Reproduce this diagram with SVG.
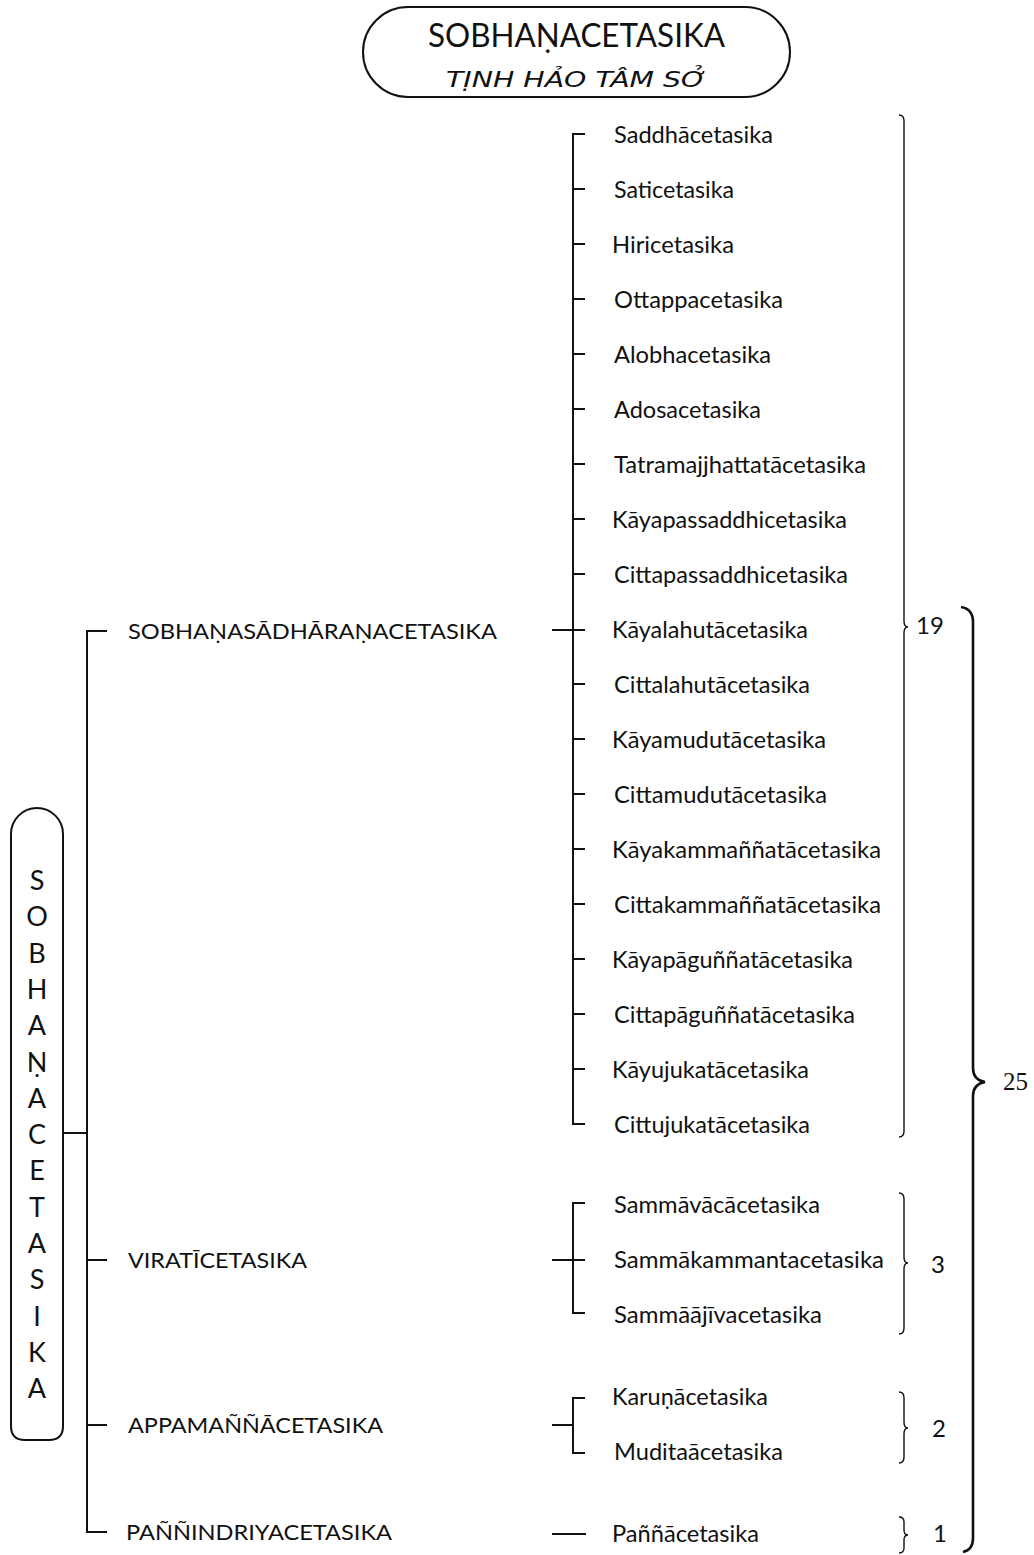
<svg xmlns="http://www.w3.org/2000/svg" width="1034" height="1555" viewBox="0 0 1034 1555">
<style>
.t{font-family:Lato,"Noto Sans",sans-serif;fill:#111}
.item{font-size:23px}
.cat{font-size:21px}
.num{font-size:24px}
.ln{fill:none;stroke:#111;stroke-width:2}
.br{fill:none;stroke:#111;stroke-width:1.4}
.bb{fill:none;stroke:#111;stroke-width:2.6}
.box{fill:#fff;stroke:#111;stroke-width:2}
</style>
<rect width="1034" height="1555" fill="#fff"/>
<g id="title">
<rect class="box" x="363" y="7" width="427" height="90" rx="45"/>
<text class="t" x="428" y="47" font-size="32" textLength="297" lengthAdjust="spacingAndGlyphs">SOBHAṆACETASIKA</text>
<text x="446" y="87" font-family="'DejaVu Sans',sans-serif" font-style="italic" font-size="21" fill="#111" textLength="261" lengthAdjust="spacingAndGlyphs">TỊNH HẢO TÂM SỞ</text>
</g>
<g id="root">
<path class="box" d="M11 834 A26 26 0 0 1 63 834 V1426 Q63 1440 49 1440 H25 Q11 1440 11 1426 Z"/>
<g class="t" font-size="27" text-anchor="middle">
<text x="37" y="890">S</text>
<text x="37" y="926">O</text>
<text x="37" y="963">B</text>
<text x="37" y="999">H</text>
<text x="37" y="1035">A</text>
<text x="37" y="1072">Ṇ</text>
<text x="37" y="1108">A</text>
<text x="37" y="1144">C</text>
<text x="37" y="1180">E</text>
<text x="37" y="1217">T</text>
<text x="37" y="1253">A</text>
<text x="37" y="1289">S</text>
<text x="37" y="1326">I</text>
<text x="37" y="1362">K</text>
<text x="37" y="1398">A</text>
</g>
</g>
<g id="connectors">
<path class="ln" d="M63 1133 H87"/>
<path class="ln" d="M107 631 H87 V1532 H107"/>
<path class="ln" d="M87 1260 H107 M87 1425 H107"/>
<path class="ln" d="M552 630 H585"/>
<path class="ln" d="M585 134 H573 V1124 H585"/>
<path class="ln" d="M573 189 H585 M573 244 H585 M573 299 H585 M573 354 H585 M573 409 H585 M573 464 H585 M573 519 H585 M573 574 H585 M573 684 H585 M573 739 H585 M573 794 H585 M573 849 H585 M573 904 H585 M573 959 H585 M573 1014 H585 M573 1069 H585"/>
<path class="ln" d="M552 1260 H585 M585 1203 H573 V1313 H585"/>
<path class="ln" d="M552 1425 H573 M585 1398 H573 V1453 H585"/>
<path class="ln" d="M552 1534 H586"/>
<path class="br" d="M899 115 Q904 115 904 121 V621 Q904 627 908 627 Q904 627 904 633 V1131 Q904 1137 899 1137"/>
<path class="br" d="M899 1193 Q904 1193 904 1199 V1257 Q904 1263 908 1263 Q904 1263 904 1269 V1328 Q904 1334 899 1334"/>
<path class="br" d="M899 1392 Q904 1392 904 1398 V1422 Q904 1428 908 1428 Q904 1428 904 1434 V1457 Q904 1463 899 1463"/>
<path class="br" d="M899 1517 Q904 1517 904 1522 V1530 Q904 1535 908 1535 Q904 1535 904 1540 V1548 Q904 1553 899 1553"/>
<path class="bb" d="M961 607 Q973 609 973 622 V1068 Q973 1080 985 1082 Q973 1084 973 1096 V1538 Q973 1550 963 1552"/>
</g>
<g id="cat-sadharana"><text class="t cat" x="128" y="639" textLength="369" lengthAdjust="spacingAndGlyphs">SOBHAṆASĀDHĀRAṆACETASIKA</text></g>
<g id="cat-virati"><text class="t cat" x="128" y="1268" textLength="179" lengthAdjust="spacingAndGlyphs">VIRATĪCETASIKA</text></g>
<g id="cat-appamanna"><text class="t cat" x="128" y="1433" textLength="255" lengthAdjust="spacingAndGlyphs">APPAMAÑÑĀCETASIKA</text></g>
<g id="cat-pannindriya"><text class="t cat" x="126" y="1540" textLength="266" lengthAdjust="spacingAndGlyphs">PAÑÑINDRIYACETASIKA</text></g>
<g id="items" class="t item">
<text x="614" y="143" textLength="159" lengthAdjust="spacingAndGlyphs">Saddhācetasika</text>
<text x="614" y="198" textLength="120" lengthAdjust="spacingAndGlyphs">Saticetasika</text>
<text x="612" y="253" textLength="122" lengthAdjust="spacingAndGlyphs">Hiricetasika</text>
<text x="614" y="308" textLength="169" lengthAdjust="spacingAndGlyphs">Ottappacetasika</text>
<text x="614" y="363" textLength="157" lengthAdjust="spacingAndGlyphs">Alobhacetasika</text>
<text x="614" y="418" textLength="147" lengthAdjust="spacingAndGlyphs">Adosacetasika</text>
<text x="614" y="473" textLength="252" lengthAdjust="spacingAndGlyphs">Tatramajjhattatācetasika</text>
<text x="612" y="528" textLength="235" lengthAdjust="spacingAndGlyphs">Kāyapassaddhicetasika</text>
<text x="614" y="583" textLength="234" lengthAdjust="spacingAndGlyphs">Cittapassaddhicetasika</text>
<text x="612" y="638" textLength="196" lengthAdjust="spacingAndGlyphs">Kāyalahutācetasika</text>
<text x="614" y="693" textLength="196" lengthAdjust="spacingAndGlyphs">Cittalahutācetasika</text>
<text x="612" y="748" textLength="214" lengthAdjust="spacingAndGlyphs">Kāyamudutācetasika</text>
<text x="614" y="803" textLength="213" lengthAdjust="spacingAndGlyphs">Cittamudutācetasika</text>
<text x="612" y="858" textLength="269" lengthAdjust="spacingAndGlyphs">Kāyakammaññatācetasika</text>
<text x="614" y="913" textLength="267" lengthAdjust="spacingAndGlyphs">Cittakammaññatācetasika</text>
<text x="612" y="968" textLength="241" lengthAdjust="spacingAndGlyphs">Kāyapāguññatācetasika</text>
<text x="614" y="1023" textLength="241" lengthAdjust="spacingAndGlyphs">Cittapāguññatācetasika</text>
<text x="612" y="1078" textLength="197" lengthAdjust="spacingAndGlyphs">Kāyujukatācetasika</text>
<text x="614" y="1133" textLength="196" lengthAdjust="spacingAndGlyphs">Cittujukatācetasika</text>
<text x="614" y="1213" textLength="206" lengthAdjust="spacingAndGlyphs">Sammāvācācetasika</text>
<text x="614" y="1268" textLength="270" lengthAdjust="spacingAndGlyphs">Sammākammantacetasika</text>
<text x="614" y="1323" textLength="208" lengthAdjust="spacingAndGlyphs">Sammāājīvacetasika</text>
<text x="612" y="1405" textLength="156" lengthAdjust="spacingAndGlyphs">Karuṇācetasika</text>
<text x="614" y="1460" textLength="169" lengthAdjust="spacingAndGlyphs">Muditaācetasika</text>
<text x="612" y="1542" textLength="147" lengthAdjust="spacingAndGlyphs">Paññācetasika</text>
</g>
<g id="counts">
<text class="t num" x="916" y="634">19</text>
<text class="t num" x="931" y="1273">3</text>
<text class="t num" x="932" y="1437">2</text>
<text class="t num" x="933" y="1542">1</text>
<text x="1003" y="1090" font-family="'Liberation Serif',serif" font-size="25" fill="#111">25</text>
</g>
</svg>
